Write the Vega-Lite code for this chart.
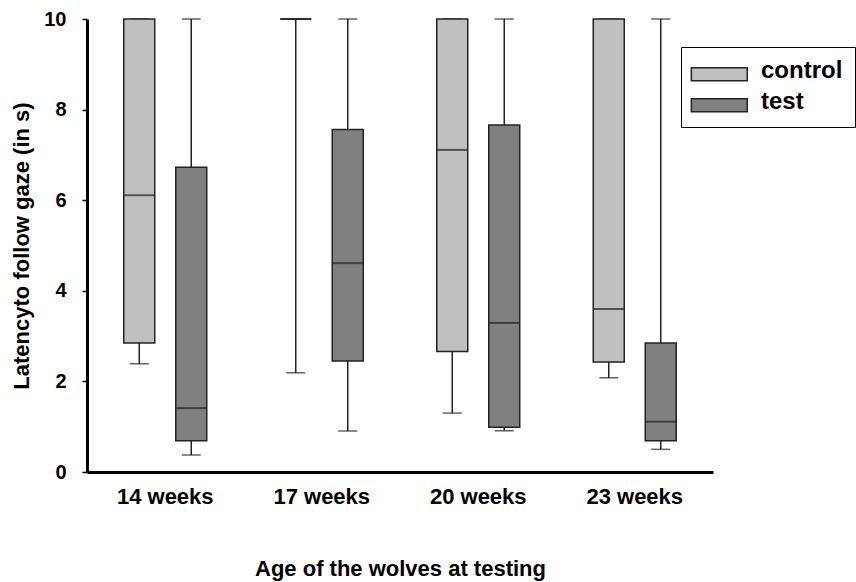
{
  "$schema": "https://vega.github.io/schema/vega-lite/v6.json",
  "width": 626,
  "height": 453,
  "autosize": {"type": "none"},
  "padding": {"left": 87, "top": 19, "right": 143, "bottom": 110},
  "config": {"view": {"stroke": null}, "font": "Liberation Sans"},
  "data": {
    "values": [
      {"week": "14 weeks", "group": "control", "min": 2.39, "q1": 2.85, "median": 6.11, "q3": 10, "max": 10},
      {"week": "14 weeks", "group": "test", "min": 0.375, "q1": 0.69, "median": 1.41, "q3": 6.73, "max": 10},
      {"week": "17 weeks", "group": "control", "min": 2.19, "q1": 10, "median": 10, "q3": 10, "max": 10},
      {"week": "17 weeks", "group": "test", "min": 0.905, "q1": 2.45, "median": 4.61, "q3": 7.56, "max": 10},
      {"week": "20 weeks", "group": "control", "min": 1.3, "q1": 2.66, "median": 7.11, "q3": 10, "max": 10},
      {"week": "20 weeks", "group": "test", "min": 0.91, "q1": 0.99, "median": 3.29, "q3": 7.66, "max": 10},
      {"week": "23 weeks", "group": "control", "min": 2.08, "q1": 2.43, "median": 3.6, "q3": 10, "max": 10},
      {"week": "23 weeks", "group": "test", "min": 0.5, "q1": 0.69, "median": 1.11, "q3": 2.85, "max": 10}
    ]
  },
  "encoding": {
    "x": {
      "field": "week",
      "type": "nominal",
      "sort": ["14 weeks", "17 weeks", "20 weeks", "23 weeks"],
      "scale": {"paddingInner": 0, "paddingOuter": 0},
      "title": "Age of the wolves at testing",
      "axis": {
        "domainWidth": 3,
        "domainColor": "black",
        "ticks": false,
        "labelAngle": 0,
        "labelFontSize": 22,
        "labelFontWeight": "bold",
        "labelColor": "black",
        "labelPadding": 14,
        "titleFontSize": 22,
        "titleFontWeight": "bold",
        "titleColor": "black",
        "titlePadding": 51
      }
    },
    "xOffset": {
      "field": "group",
      "type": "nominal",
      "sort": ["control", "test"],
      "scale": {"paddingInner": 0.404, "paddingOuter": 0.707}
    }
  },
  "layer": [
    {
      "mark": {"type": "rule", "color": "#222", "strokeWidth": 1.5},
      "encoding": {
        "y": {
          "field": "min",
          "type": "quantitative",
          "scale": {"domain": [0, 10]},
          "title": "Latencyto follow gaze (in s)",
          "axis": {
            "values": [0, 2, 4, 6, 8, 10],
            "grid": false,
            "domainWidth": 3,
            "domainColor": "black",
            "tickColor": "black",
            "tickWidth": 1.5,
            "tickSize": 5,
            "labelFontSize": 20,
            "labelFontWeight": "bold",
            "labelColor": "black",
            "labelPadding": 16,
            "titleFontSize": 22,
            "titleFontWeight": "bold",
            "titleColor": "black",
            "titlePadding": 10
          }
        },
        "y2": {"field": "max"}
      }
    },
    {
      "mark": {"type": "tick", "color": "#222", "thickness": 1.5, "size": 19},
      "encoding": {"y": {"field": "min", "type": "quantitative", "title": "Latencyto follow gaze (in s)"}}
    },
    {
      "mark": {"type": "tick", "color": "#222", "thickness": 1.5, "size": 19},
      "encoding": {"y": {"field": "max", "type": "quantitative", "title": "Latencyto follow gaze (in s)"}}
    },
    {
      "mark": {"type": "bar", "stroke": "#222", "strokeWidth": 1.5},
      "encoding": {
        "y": {"field": "q1", "type": "quantitative", "title": "Latencyto follow gaze (in s)"},
        "y2": {"field": "q3"},
        "fill": {
          "field": "group",
          "type": "nominal",
          "scale": {"domain": ["control", "test"], "range": ["#c0c0c0", "#808080"]},
          "legend": {
            "orient": "none",
            "legendX": 594,
            "legendY": 28,
            "title": null,
            "strokeColor": "black",
            "padding": 12,
            "symbolType": "M-2.1,-0.5H6.5V1.5H-2.1Z",
            "symbolSize": 169,
            "symbolStrokeColor": "#222",
            "symbolStrokeWidth": 1.5,
            "labelFontSize": 24,
            "labelFontWeight": "bold",
            "labelColor": "black",
            "labelOffset": 44,
            "rowPadding": 6
          }
        }
      }
    },
    {
      "mark": {"type": "tick", "color": "#222", "thickness": 2, "size": 31},
      "encoding": {"y": {"field": "median", "type": "quantitative", "title": "Latencyto follow gaze (in s)"}}
    }
  ]
}
